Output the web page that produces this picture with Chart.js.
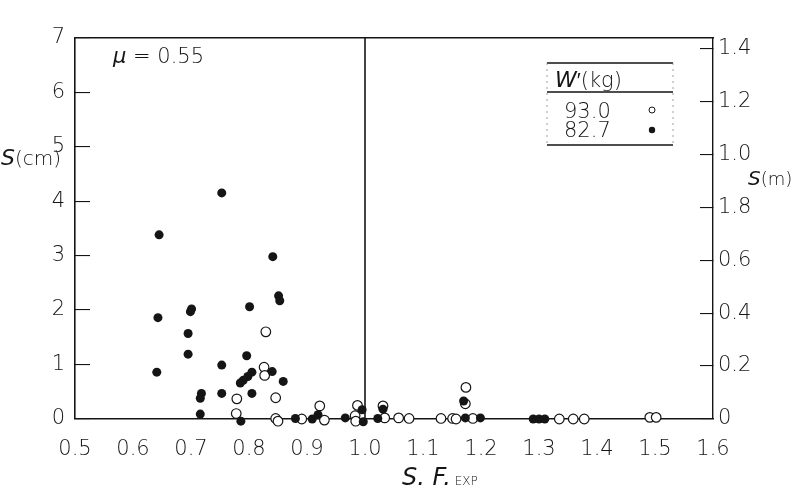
<!DOCTYPE html>
<html>
<head>
<meta charset="utf-8">
<script src="https://cdn.jsdelivr.net/npm/chart.js@4/dist/chart.umd.min.js"></script>
<style>
  html, body { margin: 0; padding: 0; background: #fff; }
</style>
</head>
<body>
<canvas id="grafica" width="794" height="488"></canvas>
<script>
// W' = 82.7 kg (puntos llenos)
var sfFilled = [0.645, 0.643, 0.641, 0.753, 0.699, 0.701, 0.695, 0.695, 0.718, 0.716, 0.716, 0.753, 0.753, 0.786,
                0.801, 0.796, 0.805, 0.798, 0.790, 0.785, 0.805, 0.840, 0.841, 0.851, 0.853, 0.859, 0.880, 0.909,
                0.919, 0.966, 0.995, 0.997, 1.022, 1.031, 1.170, 1.173, 1.199, 1.290, 1.300, 1.310];
var sFilled  = [3.38, 1.86, 0.86, 4.15, 1.97, 2.02, 1.57, 1.19, 0.47, 0.38, 0.09, 0.99, 0.47, -0.04,
                2.06, 1.16, 0.86, 0.78, 0.71, 0.66, 0.47, 0.87, 2.98, 2.26, 2.17, 0.69, 0.01, 0.00,
                0.08, 0.02, 0.17, -0.05, 0.01, 0.18, 0.33, 0.02, 0.02, 0.00, 0.00, 0.00];

// W' = 93.0 kg (circulos vacios)
var sfOpen = [0.829, 0.826, 0.827, 0.779, 0.778, 0.846, 0.846, 0.850, 0.891, 0.922, 0.930, 0.987, 0.983, 0.984,
              1.031, 1.034, 1.058, 1.076, 1.131, 1.151, 1.157, 1.174, 1.173, 1.186, 1.335, 1.359, 1.378, 1.491, 1.502];
var sOpen  = [1.60, 0.95, 0.80, 0.37, 0.10, 0.39, 0.01, -0.04, 0.00, 0.24, -0.02, 0.25, 0.06, -0.04,
              0.24, 0.02, 0.02, 0.01, 0.01, 0.01, 0.00, 0.58, 0.28, 0.01, 0.00, 0.00, 0.00, 0.03, 0.03];

var xTickValues = [0.5, 0.6, 0.7, 0.8, 0.9, 1.0, 1.1, 1.2, 1.3, 1.4, 1.5, 1.6];
var xTickLabels = ['0.5', '0.6', '0.7', '0.8', '0.9', '1.0', '1.1', '1.2', '1.3', '1.4', '1.5', '1.6'];
var yTickValues = [0, 1, 2, 3, 4, 5, 6, 7];
var yTickLabels = ['0', '1', '2', '3', '4', '5', '6', '7'];
var mTickValues = [0, 0.2, 0.4, 0.6, 0.8, 1.0, 1.2, 1.4];
var mTickLabels = ['0', '0.2', '0.4', '0.6', '1.8', '1.0', '1.2', '1.4'];
var lineaSF = [1.0, 1.0];
var lineaS  = [0, 7];

var legendTitle = 'kg';
var legendLabels = ['93.0', '82.7'];

var ink = '#151515';
var fam = "'DejaVu Sans', sans-serif";
var tickFont = { family: fam, size: 21, weight: '200' };

function pares(xs, ys) {
  var out = [];
  for (var i = 0; i < xs.length; i++) out.push({ x: xs[i], y: ys[i] });
  return out;
}

function texto(ctx, partes, x, y) {
  // partes: [[texto, italica, tamaño]]
  ctx.textBaseline = 'alphabetic';
  ctx.textAlign = 'left';
  partes.forEach(function (p) {
    ctx.font = (p[1] ? 'italic ' : '') + '200 ' + p[2] + 'px ' + fam;
    ctx.fillText(p[0], x, y);
    x += ctx.measureText(p[0]).width;
  });
}

var anotaciones = {
  id: 'anotaciones',
  afterDraw: function (chart) {
    var ctx = chart.ctx;
    ctx.save();
    ctx.fillStyle = ink;
    texto(ctx, [['\u03BC', true, 21], [' = 0.55', false, 21]], 113, 63);
    texto(ctx, [['S', true, 22], ['(cm)', false, 20]], 1, 165);
    texto(ctx, [['S', true, 20], ['(m)', false, 18]], 748, 185);
    texto(ctx, [['S. F.', true, 24], [' EXP', false, 12]], 402, 485);

    // caja de leyenda
    ctx.strokeStyle = ink;
    ctx.lineWidth = 1.3;
    ctx.beginPath();
    ctx.moveTo(547, 63); ctx.lineTo(673, 63);
    ctx.moveTo(547, 92); ctx.lineTo(673, 92);
    ctx.moveTo(547, 145); ctx.lineTo(673, 145);
    ctx.stroke();
    ctx.setLineDash([2, 4]);
    ctx.lineWidth = 0.8;
    ctx.strokeStyle = '#888';
    ctx.beginPath();
    ctx.moveTo(547, 63); ctx.lineTo(547, 145);
    ctx.moveTo(673, 63); ctx.lineTo(673, 145);
    ctx.stroke();
    ctx.setLineDash([]);

    texto(ctx, [['W', true, 22], ['\u2032(' + legendTitle + ')', false, 21]], 555, 87);
    texto(ctx, [[legendLabels[0], false, 21]], 564, 118);
    texto(ctx, [[legendLabels[1], false, 21]], 564, 137);

    ctx.lineWidth = 1;
    ctx.strokeStyle = ink;
    ctx.beginPath();
    ctx.arc(652, 110, 3, 0, Math.PI * 2);
    ctx.stroke();
    ctx.beginPath();
    ctx.arc(652, 130, 3.2, 0, Math.PI * 2);
    ctx.fill();
    ctx.restore();
  }
};

var ctx = document.getElementById('grafica');

var grafica = new Chart(ctx, {
  type: 'scatter',
  data: {
    datasets: [
      {
        label: '82.7',
        data: pares(sfFilled, sFilled),
        pointRadius: 4.5,
        pointBackgroundColor: ink,
        pointBorderColor: ink,
        pointBorderWidth: 0,
        clip: false
      },
      {
        label: '93.0',
        data: pares(sfOpen, sOpen),
        pointRadius: 4.8,
        pointBackgroundColor: '#fff',
        pointBorderColor: ink,
        pointBorderWidth: 1.2,
        clip: false
      },
      {
        type: 'line',
        label: 'SF = 1',
        data: pares(lineaSF, lineaS),
        borderColor: ink,
        borderWidth: 1.6,
        pointRadius: 0,
        showLine: true
      }
    ]
  },
  options: {
    responsive: false,
    animation: false,
    layout: { padding: { top: 17, left: 0, right: 0, bottom: 0 } },
    plugins: { legend: { display: false }, tooltip: { enabled: false } },
    scales: {
      x: {
        type: 'linear', position: 'bottom', min: 0.5, max: 1.6,
        afterBuildTicks: function (s) { s.ticks = xTickValues.map(function (v) { return { value: v }; }); },
        afterFit: function (s) { s.height = 69; },
        grid: { display: false },
        border: { color: ink, width: 1.6 },
        ticks: {
          autoSkip: false, maxRotation: 0, padding: 10, color: ink, font: tickFont,
          callback: function (v, i) { return xTickLabels[i]; }
        }
      },
      xTop: {
        type: 'linear', position: 'top', min: 0.5, max: 1.6,
        afterFit: function (s) { s.height = 0; },
        grid: { display: false },
        border: { color: ink, width: 1.4 },
        ticks: { display: false }
      },
      y: {
        type: 'linear', position: 'left', min: 0, max: 7,
        afterBuildTicks: function (s) { s.ticks = yTickValues.map(function (v) { return { value: v }; }); },
        afterFit: function (s) { s.width = 75; },
        grid: { display: true, drawOnChartArea: false, drawTicks: true, tickLength: -15, color: ink, lineWidth: 1.1 },
        border: { color: ink, width: 1.6 },
        ticks: {
          padding: 25, color: ink, font: tickFont,
          callback: function (v, i) { return yTickLabels[i]; }
        }
      },
      y2: {
        type: 'linear', position: 'right', min: 0, max: 1.44,
        afterBuildTicks: function (s) { s.ticks = mTickValues.map(function (v) { return { value: v }; }); },
        afterFit: function (s) { s.width = 81; },
        grid: { display: true, drawOnChartArea: false, drawTicks: true, tickLength: -13, color: ink, lineWidth: 1.1 },
        border: { color: ink, width: 1.4 },
        ticks: {
          padding: 18, color: ink, font: tickFont,
          callback: function (v, i) { return mTickLabels[i]; }
        }
      }
    }
  },
  plugins: [anotaciones]
});
</script>
</body>
</html>
